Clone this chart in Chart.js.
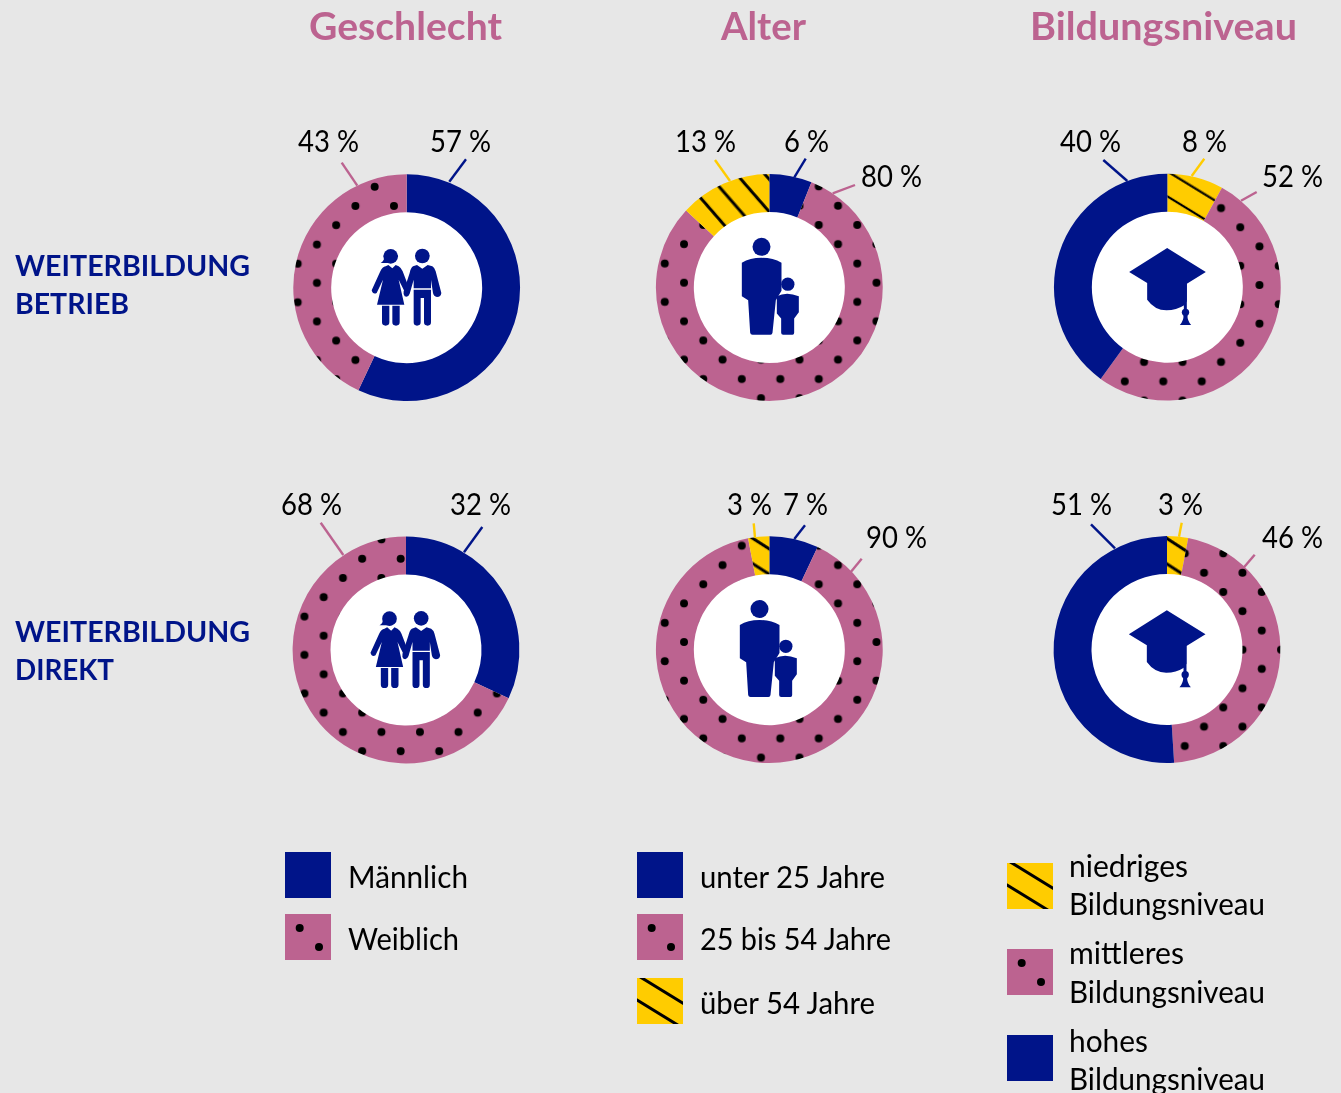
<!DOCTYPE html>
<html lang="de">
<head>
<meta charset="utf-8">
<title>Weiterbildung</title>
<script src="https://cdn.jsdelivr.net/npm/chart.js@4"></script>
<style>
html,body{margin:0;padding:0;background:#E7E7E7;width:1341px;height:1093px;overflow:hidden}
#stage{position:relative;width:1341px;height:1093px;font-family:Lato,sans-serif;color:#000}
canvas{position:absolute}
svg{position:absolute;left:0;top:0}
.t{position:absolute;white-space:nowrap;transform-origin:0 50%;line-height:1}
</style>
</head>
<body>
<div id="stage"></div>
<script>
// ---- data -------------------------------------------------------------
const titles = ["Geschlecht", "Alter", "Bildungsniveau"];
const rowLabels = [["WEITERBILDUNG", "BETRIEB"], ["WEITERBILDUNG", "DIREKT"]];

const genderCategories = ["Männlich", "Weiblich"];
const ageCategories = ["unter 25 Jahre", "25 bis 54 Jahre", "über 54 Jahre"];
const eduCategories = ["niedriges Bildungsniveau", "mittleres Bildungsniveau", "hohes Bildungsniveau"];

const genderBetrieb = [57, 43];
const ageBetrieb = [6, 80, 13];
const eduBetrieb = [8, 52, 40];
const genderDirekt = [32, 68];
const ageDirekt = [7, 90, 3];
const eduDirekt = [3, 46, 51];

// ---- styles and layout ------------------------------------------------
const BLUE = "#001489", PINK = "#BC6390", YELLOW = "#FFCC00";
const genderKinds = ["solid", "dots"];
const ageKinds = ["solid", "dots", "hatch"];
const eduKinds = ["hatch", "dots", "solid"];
const kindColor = {solid: BLUE, dots: PINK, hatch: YELLOW};
const OUTER = 113.4, INNER = 75.5, BOX = 260;

const panels = [
 {cat: genderCategories, val: genderBetrieb, kinds: genderKinds, cx: 406.67, cy: 287.67, icon: "couple", ix: 0, dot: [374.67, 186.67],
  labels: [[430, 491, 141], [298, 359, 141]],
  leaders: [[449.3, 181.7, 466, 159.3], [357.3, 185.7, 341.7, 162.7]]},
 {cat: ageCategories, val: ageBetrieb, kinds: ageKinds, cx: 769.33, cy: 287.5, icon: "family", ix: 0, dot: [838, 205.67],
  hatch: {x: 768.3, y: 210.7, deg: 49, w: 3},
  labels: [[784, 829, 141], [861, 922, 176], [675, 736, 141]],
  leaders: [[794.3, 177.3, 805.7, 158.7], [832.7, 193.3, 855, 185], [730, 181, 715, 160]]},
 {cat: eduCategories, val: eduBetrieb, kinds: eduKinds, cx: 1167.33, cy: 287.2, icon: "cap", ix: 0, dot: [1221, 208],
  hatch: {x: 1171.7, y: 174, deg: 31.5, w: 2.2},
  labels: [[1182, 1227, 141], [1262, 1323, 176], [1060, 1121, 141]],
  leaders: [[1191.7, 176, 1204.3, 158.7], [1241, 200.7, 1256.7, 192], [1127.3, 181, 1103.3, 160]]},
 {cat: genderCategories, val: genderDirekt, kinds: genderKinds, cx: 406, cy: 650, icon: "couple", ix: -0.5, dot: [400.67, 558.67],
  labels: [[450, 511, 504], [281, 342, 504]],
  leaders: [[464, 552.3, 482.3, 527], [343.3, 555, 320.7, 522.7]]},
 {cat: ageCategories, val: ageDirekt, kinds: ageKinds, cx: 769.33, cy: 649.67, icon: "family", ix: -2, dot: [838, 565],
  hatch: {x: 751.7, y: 537.7, deg: 32.6, w: 3},
  labels: [[783, 828, 504], [866, 927, 537], [727, 772, 504]],
  leaders: [[794.3, 539, 805, 525.3], [851, 571.7, 861.7, 558.7], [755, 537.7, 753.7, 523.3]]},
 {cat: eduCategories, val: eduDirekt, kinds: eduKinds, cx: 1167, cy: 649.5, icon: "cap", ix: 0, dot: [1204, 572.67],
  hatch: {x: 1167.7, y: 539, deg: 33, w: 3},
  labels: [[1158, 1203, 504], [1262, 1323, 537], [1051, 1112, 504]],
  leaders: [[1179, 536.7, 1181.7, 522.7], [1244, 567.3, 1254.7, 554.7], [1115, 548.3, 1091, 524.3]]}
];

const SVGNS = "http://www.w3.org/2000/svg";
const stage = document.getElementById("stage");

// ---- text helper: real text fitted to a target width --------------------
const fitted = [];
function addText(str, x0, x1, cy, size, weight, color) {
  const d = document.createElement("div");
  d.className = "t";
  d.textContent = str;
  d.style.left = x0 + "px";
  d.style.top = (cy - size / 2 - 1) + "px";
  d.style.fontSize = size + "px";
  d.style.fontWeight = weight;
  d.style.color = color;
  stage.appendChild(d);
  fitted.push([d, x1 - x0]);
}

// ---- fill patterns ------------------------------------------------------
const DOT_PERIOD = 38.5;
function dotPattern(ctx, px, py) {
  const tile = document.createElement("canvas");
  tile.width = tile.height = 116;
  const c = tile.getContext("2d"), P = 116 / 3;
  c.fillStyle = PINK; c.fillRect(0, 0, 116, 116);
  c.fillStyle = "#000";
  for (let i = 0; i < 3; i++) for (let j = 0; j < 3; j++) {
    for (const f of [0.25, 0.75]) {
      c.beginPath(); c.arc((i + f) * P, (j + f) * P, 4, 0, 7); c.fill();
    }
  }
  const pat = ctx.createPattern(tile, "repeat"), s = DOT_PERIOD / P;
  pat.setTransform(new DOMMatrix().translate(px, py).scale(s).translate(-0.25 * P, -0.25 * P));
  return pat;
}
function hatchPattern(ctx, px, py, deg, w) {
  const tile = document.createElement("canvas");
  tile.width = 64; tile.height = 64;
  const c = tile.getContext("2d"), P = 64 / 3;
  c.fillStyle = YELLOW; c.fillRect(0, 0, 64, 64);
  c.fillStyle = "#000";
  for (let j = 0; j < 3; j++) c.fillRect(0, (j + 0.5) * P - w / 2, 64, w);
  const pat = ctx.createPattern(tile, "repeat");
  pat.setTransform(new DOMMatrix().translate(px, py).rotate(deg).translate(0, -0.5 * P));
  return pat;
}

// ---- white centre drawn behind the rings -------------------------------
const centreDisc = {
  id: "centreDisc",
  beforeDatasetsDraw(chart) {
    const arc = chart.getDatasetMeta(0).data[0], c = chart.ctx;
    c.save(); c.fillStyle = "#fff";
    c.beginPath(); c.arc(arc.x, arc.y, arc.innerRadius + 0.5, 0, Math.PI * 2); c.fill();
    c.restore();
  }
};

// ---- icons, in a 3x working grid centred on each ring ---------------------
const iconArt = {
  couple: {c: [381, 504], shapes: `
    <circle cx="333" cy="410" r="22"/><path d="M303 430Q315 424 318 398L340 430Z"/>
    <path d="M318 440L326 436L338 446L348 436L357 440Q365 445 369 455L390 510Q388 526 378 522L357 480L374 555H292L310 480L291 520Q280 526 276 512L302 455Q308 442 318 440Z"/>
    <path d="M307 558H329V608Q329 618 318 618Q307 618 307 608ZM338 558H360V608Q360 618 349 618Q338 618 338 608Z"/>
    <circle cx="428" cy="409" r="22"/>
    <path d="M400 440L412 436L428 447L444 436L458 440Q466 445 468 455L485 520Q484 532 472 532Q462 530 460 520L454 480V506H402V480L390 522Q385 535 375 530Q370 525 372 515L390 460Q393 445 400 440Z"/>
    <path d="M402 510H454V608Q454 618 444 618Q433 618 433 608V535H423V608Q423 618 412 618Q402 618 402 608Z"/>`},
  family: {c: [388.5, 504], shapes: `
    <circle cx="365" cy="382" r="27"/>
    <path d="M306 430Q330 415 365 415Q400 415 425 430V514L408 542L398 640Q397 646 392 646H338Q332 646 331 640L325 542L306 530Z"/>
    <circle cx="444" cy="494" r="20"/>
    <path d="M411 530Q440 515 477 530V578L463 597V640Q463 646 458 646H430Q424 646 424 640V597L411 582Z"/>`},
  cap: {c: [382.5, 502.5], shapes: `
    <path d="M382 385L498 457L441 492V545L433 557Q410 572 380 572Q345 572 322 540V490L268 457Z"/>
    <path d="M432 490H441V570H432Z"/><circle cx="437" cy="578" r="11"/><path d="M420 616Q432 602 431 585H443Q442 602 454 616Z"/>`}
};

// ---- overlay for leader lines and icons -----------------------------------
const overlay = document.createElementNS(SVGNS, "svg");
overlay.setAttribute("width", 1341);
overlay.setAttribute("height", 1093);
stage.appendChild(overlay);
let overlayMarkup = "";

// ---- the six doughnuts -----------------------------------------------------
panels.forEach(p => {
  const rx = Math.round(p.cx), ry = Math.round(p.cy);
  const left = rx - BOX / 2, top = ry - BOX / 2;
  const cv = document.createElement("canvas");
  cv.width = BOX; cv.height = BOX;
  cv.style.left = left + "px"; cv.style.top = top + "px";
  cv.style.width = BOX + "px"; cv.style.height = BOX + "px";
  stage.insertBefore(cv, overlay);
  const ctx = cv.getContext("2d");
  const dx = (p.cx - rx) * 2, dy = (p.cy - ry) * 2;
  const fills = p.kinds.map(k => {
    if (k === "dots") return dotPattern(ctx, p.dot[0] - left, p.dot[1] - top);
    if (k === "hatch") return hatchPattern(ctx, p.hatch.x - left, p.hatch.y - top, p.hatch.deg, p.hatch.w);
    return BLUE;
  });
  new Chart(ctx, {
    type: "doughnut",
    data: {labels: p.cat, datasets: [{data: p.val, backgroundColor: fills, hoverBackgroundColor: fills, borderWidth: 0}]},
    options: {
      responsive: false, animation: false, events: [],
      radius: OUTER,
      cutout: (INNER / OUTER * 100).toFixed(2) + "%",
      layout: {padding: {left: Math.max(dx, 0), right: Math.max(-dx, 0), top: Math.max(dy, 0), bottom: Math.max(-dy, 0)}},
      plugins: {legend: {display: false}, tooltip: {enabled: false}}
    },
    plugins: [centreDisc]
  });
  p.val.forEach((v, i) => {
    const [x0, x1, y] = p.labels[i];
    addText(v + " %", x0, x1, y, 30, 400, "#000");
    const [a, b, c, d] = p.leaders[i];
    overlayMarkup += `<line x1="${a}" y1="${b}" x2="${c}" y2="${d}" stroke="${kindColor[p.kinds[i]]}" stroke-width="2.4"/>`;
  });
  const art = iconArt[p.icon];
  overlayMarkup += `<g fill="${BLUE}" transform="translate(${p.cx + p.ix} ${p.cy}) scale(${1 / 3}) translate(${-art.c[0]} ${-art.c[1]})">${art.shapes}</g>`;
});

// ---- titles and row labels --------------------------------------------------
const titleSpans = [[309, 502], [721, 806], [1030, 1297]];
titles.forEach((t, i) => addText(t, titleSpans[i][0], titleSpans[i][1], 26.5, 39, 700, PINK));
const rowSpans = [[[15, 250, 266], [15, 129, 304]], [[15, 250, 632], [15, 114, 670]]];
rowLabels.forEach((lines, r) => lines.forEach((l, i) => {
  const [x0, x1, y] = rowSpans[r][i];
  addText(l, x0, x1, y, 28, 700, BLUE);
}));

// ---- legends ------------------------------------------------------------------
function swatch(x, y, kind) {
  let s = `<rect x="${x}" y="${y}" width="46" height="46" fill="${kindColor[kind]}"/>`;
  if (kind === "dots") {
    s += `<circle cx="${x + 14.7}" cy="${y + 14}" r="4" fill="#000"/><circle cx="${x + 34}" cy="${y + 33}" r="4" fill="#000"/>`;
  }
  if (kind === "hatch") {
    s += `<svg x="${x}" y="${y}" width="46" height="46"><g stroke="#000" stroke-width="3"><line x1="0" y1="-3" x2="50" y2="27.7"/><line x1="-5" y1="19" x2="44" y2="49"/></g></svg>`;
  }
  overlayMarkup += s;
}
const genderLegendY = [852, 914];
const genderLegendText = [[348, 468, 877], [348, 459, 939]];
genderCategories.forEach((c, i) => {
  swatch(285, genderLegendY[i], genderKinds[i]);
  const [a, b, y] = genderLegendText[i];
  addText(c, a, b, y, 30, 400, "#000");
});
const ageLegendY = [852, 914, 978];
const ageLegendText = [[700, 885, 877], [700, 891, 939], [700, 875, 1003]];
ageCategories.forEach((c, i) => {
  swatch(637, ageLegendY[i], ageKinds[i]);
  const [a, b, y] = ageLegendText[i];
  addText(c, a, b, y, 30, 400, "#000");
});
const eduLegendY = [863, 949, 1035];
const eduLegendText = [[[1069, 1188, 866], [1069, 1265, 904]], [[1069, 1184, 953], [1069, 1265, 992]], [[1069, 1148, 1041], [1069, 1265, 1079]]];
eduCategories.forEach((c, i) => {
  swatch(1007, eduLegendY[i], eduKinds[i]);
  c.split(" ").forEach((w, j) => {
    const [a, b, y] = eduLegendText[i][j];
    addText(w, a, b, y, 30, 400, "#000");
  });
});

overlay.innerHTML = overlayMarkup;

function fitAll() {
  fitted.forEach(([d, w]) => {
    d.style.transform = "none";
    d.style.transform = `scaleX(${w / d.getBoundingClientRect().width})`;
  });
}
fitAll();
if (document.fonts && document.fonts.ready) document.fonts.ready.then(fitAll);
</script>
</body>
</html>
